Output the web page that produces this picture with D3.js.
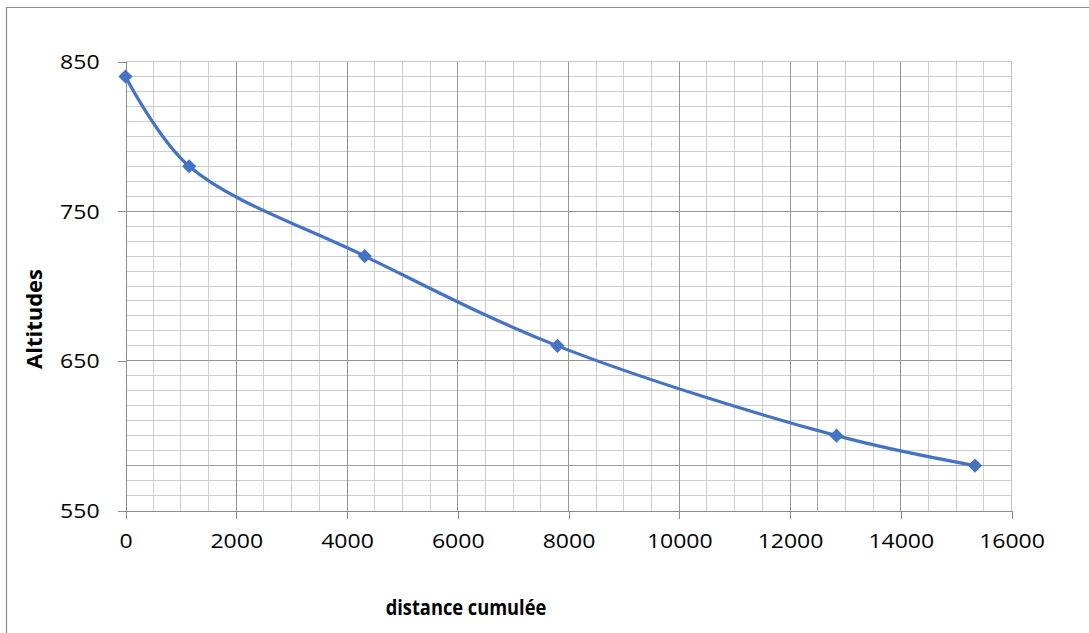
<!DOCTYPE html>
<html>
<head>
<meta charset="utf-8">
<script src="https://cdn.jsdelivr.net/npm/d3@7"></script>
<style>
  html, body { margin: 0; padding: 0; background: #fff; }
  svg { display: block; }
</style>
</head>
<body>
<div id="chart"></div>
<script>
(function () {
    'use strict';

    // distance cumulée (m) and altitude (m) of each point
    const distances = [0, 1150, 4320, 7800, 12840, 15340];
    const altitudes = [840, 780, 720, 660, 600, 580];

    const xTicks = [0, 2000, 4000, 6000, 8000, 10000, 12000, 14000, 16000];
    const yTicks = [550, 650, 750, 850];
    const xMinorStep = 500;
    const yMinorStep = 10;
    // two grid lines look darker in the original
    const xOddLines = [12500];
    const yOddLines = [580];

    const width = 1089;
    const height = 633;

    const x = d3.scaleLinear().domain([0, 16000]).range([125.5, 1011.5]);
    const y = d3.scaleLinear().domain([550, 850]).range([510.5, 61.5]);

    const svg = d3.select('#chart').append('svg')
        .attr('width', width)
        .attr('height', height);

    // outer frame (only top and left edges visible)
    svg.append('path')
        .attr('d', `M6.5,${height}V7.5H${width}`)
        .attr('fill', 'none')
        .attr('stroke', '#8c8c8c')
        .attr('stroke-width', 1.2);

    const grid = svg.append('g').attr('shape-rendering', 'crispEdges');

    const xMinor = d3.range(0, 16000 + 1, xMinorStep).filter(v => v % 2000 !== 0);
    const yMinor = d3.range(550, 850 + 1, yMinorStep).filter(v => v % 100 !== 50);

    grid.append('g')
        .selectAll('line')
        .data(xMinor)
        .join('line')
        .attr('x1', d => x(d)).attr('x2', d => x(d))
        .attr('y1', y(850)).attr('y2', y(550))
        .attr('stroke', '#cdcdcd');

    grid.append('g')
        .selectAll('line')
        .data(yMinor)
        .join('line')
        .attr('x1', x(0)).attr('x2', x(16000))
        .attr('y1', d => y(d)).attr('y2', d => y(d))
        .attr('stroke', '#cdcdcd');

    // top and right border of the plot area
    grid.append('line')
        .attr('x1', x(0)).attr('x2', x(16000))
        .attr('y1', y(850)).attr('y2', y(850))
        .attr('stroke', '#c8c8c8');
    grid.append('line')
        .attr('x1', x(16000)).attr('x2', x(16000))
        .attr('y1', y(850)).attr('y2', y(550))
        .attr('stroke', '#c4c4c4')
        .attr('stroke-width', 1.5);

    grid.append('g')
        .selectAll('line')
        .data(xOddLines)
        .join('line')
        .attr('x1', d => x(d)).attr('x2', d => x(d))
        .attr('y1', y(850)).attr('y2', y(550))
        .attr('stroke', '#a8a8a8');

    grid.append('g')
        .selectAll('line')
        .data(yOddLines)
        .join('line')
        .attr('x1', x(0)).attr('x2', x(16000))
        .attr('y1', d => y(d)).attr('y2', d => y(d))
        .attr('stroke', '#a0a0a0');

    // major grid lines
    grid.append('g')
        .selectAll('line')
        .data(xTicks.filter(v => v > 0 && v < 16000))
        .join('line')
        .attr('x1', d => x(d)).attr('x2', d => x(d))
        .attr('y1', y(850)).attr('y2', y(550))
        .attr('stroke', '#959595');

    grid.append('g')
        .selectAll('line')
        .data(yTicks.filter(v => v > 550 && v < 850))
        .join('line')
        .attr('x1', x(0)).attr('x2', x(16000))
        .attr('y1', d => y(d)).attr('y2', d => y(d))
        .attr('stroke', '#959595');

    // axes
    const xAxis = svg.append('g')
        .attr('transform', `translate(0,${y(550)})`)
        .call(d3.axisBottom(x).tickValues(xTicks).tickFormat(d3.format('d'))
            .tickSize(8).tickSizeOuter(0).tickPadding(16));

    const yAxis = svg.append('g')
        .attr('transform', `translate(${x(0)},0)`)
        .call(d3.axisLeft(y).tickValues(yTicks).tickFormat(d3.format('d'))
            .tickSize(8).tickSizeOuter(0).tickPadding(14));

    [xAxis, yAxis].forEach(a => {
        a.attr('font-family', '"Open Sans", sans-serif')
            .attr('font-size', 19.5);
        a.select('.domain').attr('stroke', '#8c8c8c').attr('shape-rendering', 'crispEdges');
        a.selectAll('.tick line').attr('stroke', '#8c8c8c').attr('shape-rendering', 'crispEdges');
        a.selectAll('.tick text')
            .attr('fill', '#000')
            .attr('transform', 'scale(1.18,1)');
    });
    yAxis.selectAll('.tick text').attr('dy', '0.36em');

    // axis titles
    svg.append('text')
        .attr('transform', 'translate(466,615) scale(0.85,1)')
        .attr('text-anchor', 'middle')
        .attr('font-family', '"Open Sans", sans-serif')
        .attr('font-weight', 'bold')
        .attr('font-size', 21.5)
        .text('distance cumulée');

    svg.append('text')
        .attr('transform', 'translate(42,319) rotate(-90)')
        .attr('text-anchor', 'middle')
        .attr('font-family', '"Open Sans", sans-serif')
        .attr('font-weight', 'bold')
        .attr('font-size', 22)
        .text('Altitudes');

    // series
    const points = distances.map((d, i) => ({ x: d, y: altitudes[i] }));

    const line = d3.line()
        .x(d => x(d.x))
        .y(d => y(d.y))
        .curve(d3.curveCatmullRom.alpha(0.5));

    svg.append('path')
        .datum(points)
        .attr('d', line)
        .attr('fill', 'none')
        .attr('stroke', '#4472c4')
        .attr('stroke-width', 3.2)
        .attr('stroke-linejoin', 'round');

    svg.append('g')
        .selectAll('path')
        .data(points)
        .join('path')
        .attr('transform', d => `translate(${x(d.x)},${y(d.y)}) rotate(45)`)
        .attr('d', d3.symbol(d3.symbolSquare, 100))
        .attr('fill', '#4472c4');
})();
</script>
</body>
</html>
